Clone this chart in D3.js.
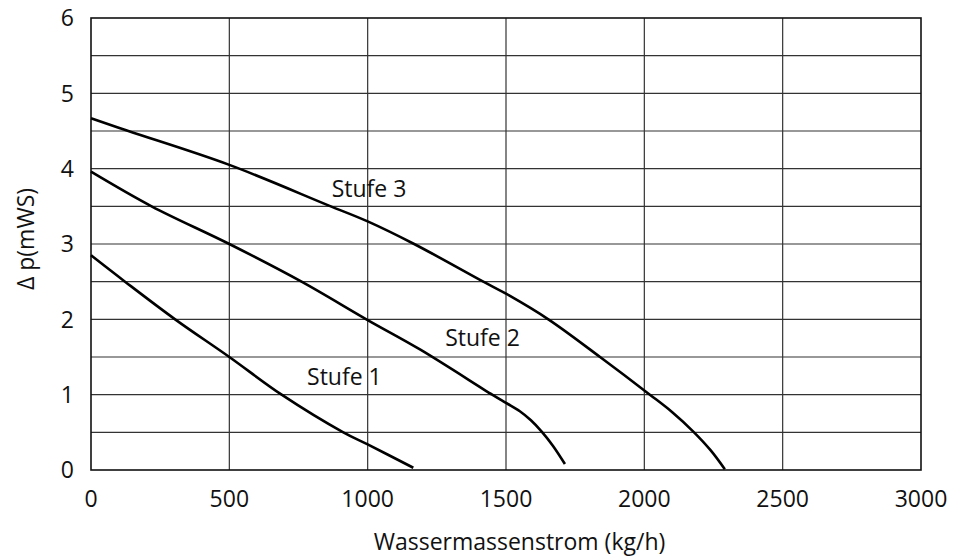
<!DOCTYPE html>
<html>
<head>
<meta charset="utf-8">
<script src="https://cdn.jsdelivr.net/npm/d3@7"></script>
<style>
  body { margin: 0; background: #fff; }
  text { font-family: "Open Sans", "Noto Sans", sans-serif; font-size: 23px; fill: #111; }
</style>
</head>
<body>
<div id="chart"></div>
<script>
const width = 965;
const height = 559;

// Förderhöhe je Stufe
const stufe1Flow = [0, 123, 304, 500, 689, 912, 1000, 1165];
const stufe1Dp = [2.85, 2.5, 2.0, 1.5, 1.0, 0.5, 0.34, 0.03];

const stufe2Flow = [0, 219, 500, 761, 1000, 1189, 1450, 1500, 1550, 1590, 1629, 1670, 1713];
const stufe2Dp = [3.96, 3.5, 3.0, 2.5, 1.99, 1.6, 1.0, 0.89, 0.78, 0.66, 0.51, 0.32, 0.08];

const stufe3Flow = [0, 135, 500, 860, 1000, 1168, 1418, 1500, 1653, 1840, 2020, 2100, 2177, 2240, 2291];
const stufe3Dp = [4.67, 4.5, 4.05, 3.51, 3.3, 3.0, 2.5, 2.34, 2.0, 1.5, 1.0, 0.77, 0.51, 0.26, 0.01];

const xTicks = [0, 500, 1000, 1500, 2000, 2500, 3000];
const yTicks = [0, 1, 2, 3, 4, 5, 6];
const yGrid = [0.5, 1, 1.5, 2, 2.5, 3, 3.5, 4, 4.5, 5, 5.5];

const labels = [
    { text: "Stufe 1", flow: 916, dp: 1.13 },
    { text: "Stufe 2", flow: 1415, dp: 1.64 },
    { text: "Stufe 3", flow: 1005, dp: 3.62 }
];

const series = [
    stufe1Flow.map((f, i) => [f, stufe1Dp[i]]),
    stufe2Flow.map((f, i) => [f, stufe2Dp[i]]),
    stufe3Flow.map((f, i) => [f, stufe3Dp[i]])
];

const x = d3.scaleLinear().domain([0, 3000]).range([91, 921]);
const y = d3.scaleLinear().domain([0, 6]).range([470, 18]);

const svg = d3.select("#chart")
    .append("svg")
    .attr("width", width)
    .attr("height", height);

// Gitter
svg.append("g")
    .selectAll("line")
    .data(yGrid)
    .enter()
    .append("line")
    .attr("x1", x(0))
    .attr("x2", x(3000))
    .attr("y1", d => y(d))
    .attr("y2", d => y(d))
    .attr("stroke", "#333")
    .attr("stroke-width", 1.2);

svg.append("g")
    .selectAll("line")
    .data(xTicks.slice(1, -1))
    .enter()
    .append("line")
    .attr("x1", d => x(d))
    .attr("x2", d => x(d))
    .attr("y1", y(0))
    .attr("y2", y(6))
    .attr("stroke", "#333")
    .attr("stroke-width", 1.2);

svg.append("rect")
    .attr("x", x(0))
    .attr("y", y(6))
    .attr("width", x(3000) - x(0))
    .attr("height", y(0) - y(6))
    .attr("fill", "none")
    .attr("stroke", "#111")
    .attr("stroke-width", 1.6);

// Kennlinien
const line = d3.line()
    .x(d => x(d[0]))
    .y(d => y(d[1]))
    .curve(d3.curveCatmullRom.alpha(0.5));

svg.append("g")
    .selectAll("path")
    .data(series)
    .enter()
    .append("path")
    .attr("d", line)
    .attr("fill", "none")
    .attr("stroke", "#000")
    .attr("stroke-width", 2.6);

svg.append("g")
    .selectAll("text")
    .data(labels)
    .enter()
    .append("text")
    .attr("x", d => x(d.flow))
    .attr("y", d => y(d.dp))
    .attr("text-anchor", "middle")
    .text(d => d.text);

// Achsenbeschriftung
svg.append("g")
    .selectAll("text")
    .data(xTicks)
    .enter()
    .append("text")
    .attr("x", d => x(d))
    .attr("y", 506.5)
    .attr("text-anchor", "middle")
    .text(d => d);

svg.append("g")
    .selectAll("text")
    .data(yTicks)
    .enter()
    .append("text")
    .attr("x", 74)
    .attr("y", d => y(d))
    .attr("dy", "0.36em")
    .attr("text-anchor", "end")
    .text(d => d);

svg.append("text")
    .attr("x", 519.5)
    .attr("y", 550)
    .attr("text-anchor", "middle")
    .text("Wassermassenstrom (kg/h)");

svg.append("text")
    .attr("transform", "translate(34,239) rotate(-90)")
    .attr("text-anchor", "middle")
    .text("Δ p(mWS)");
</script>
</body>
</html>
